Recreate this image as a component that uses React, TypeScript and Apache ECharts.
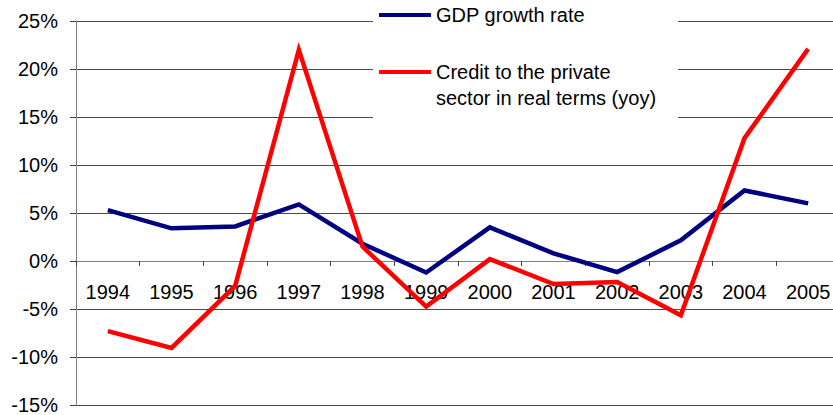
import React, { useEffect, useRef } from "react";
import * as echarts from "echarts";

const years = ["1994", "1995", "1996", "1997", "1998", "1999", "2000", "2001", "2002", "2003", "2004", "2005"];
const gdpGrowth = [5.3, 3.4, 3.6, 5.9, 1.8, -1.2, 3.5, 0.8, -1.15, 2.15, 7.35, 6.0];
const creditReal = [-7.3, -9.05, -2.6, 22.0, 1.5, -4.75, 0.2, -2.4, -2.2, -5.65, 12.8, 22.1];
const gdpName = "GDP growth rate";
const creditName = "Credit to the private\nsector in real terms (yoy)";

const FONT = "'Liberation Sans', Arial, sans-serif";

export default function App() {
  const ref = useRef<HTMLDivElement>(null);
  useEffect(() => {
    if (!ref.current) return;
    const chart = echarts.init(ref.current, null, { renderer: "svg" });
    chart.setOption({
      animation: false,
      backgroundColor: "#ffffff",
      textStyle: { fontFamily: FONT },
      grid: { left: 76, right: -7, top: 21, bottom: 10, containLabel: false, outerBoundsMode: "none" },
      legend: {
        orient: "vertical",
        left: 373,
        top: 0,
        backgroundColor: "#ffffff",
        padding: [2, 22, 10, 6],
        itemGap: 5,
        itemWidth: 52,
        itemHeight: 4,
        icon: "rect",
        textStyle: { fontSize: 20, color: "#000", fontFamily: FONT, lineHeight: 26 },
        formatter: (name: string) => (name === creditName ? "\n" + name : name),
        data: [{ name: gdpName }, { name: creditName }],
      },
      xAxis: {
        type: "category",
        data: years,
        boundaryGap: true,
        position: "bottom",
        offset: -144,
        axisLine: { show: true, onZero: false, lineStyle: { color: "#808080", width: 1 } },
        axisTick: { show: true, length: 5, lineStyle: { color: "#404040" } },
        axisLabel: { fontSize: 20, color: "#000", margin: 21, fontFamily: FONT, interval: 0 },
        splitLine: { show: false },
      },
      yAxis: {
        type: "value",
        min: -15,
        max: 25,
        interval: 5,
        axisLine: { show: true, lineStyle: { color: "#808080", width: 1 } },
        axisTick: { show: true, length: 6, lineStyle: { color: "#404040" } },
        axisLabel: { fontSize: 20, color: "#000", margin: 18, fontFamily: FONT, formatter: "{value}%" },
        splitLine: { show: true, lineStyle: { color: "#4a4a4a", width: 1 } },
      },
      series: [
        {
          name: gdpName,
          type: "line",
          data: gdpGrowth,
          symbol: "none",
          color: "#000080",
          lineStyle: { color: "#000080", width: 4.5, join: "miter" },
        },
        {
          name: creditName,
          type: "line",
          data: creditReal,
          symbol: "none",
          color: "#ff0000",
          lineStyle: { color: "#ff0000", width: 4.5, join: "miter" },
        },
      ],
    });
    return () => chart.dispose();
  }, []);
  return <div ref={ref} style={{ position: "absolute", left: 0, top: 0, width: 833, height: 415 }} />;
}
